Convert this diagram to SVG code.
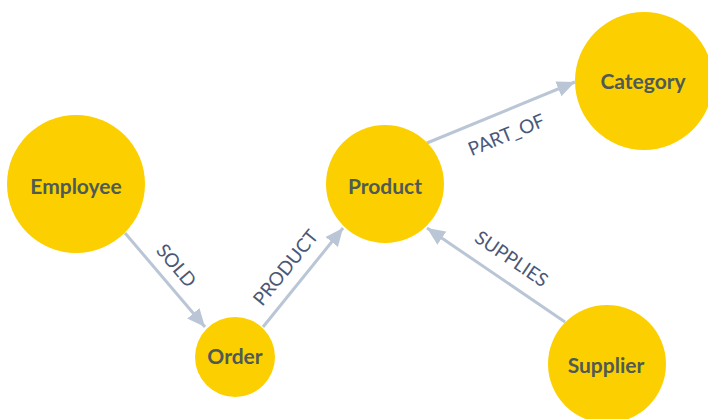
<svg xmlns="http://www.w3.org/2000/svg" width="708" height="419" viewBox="0 0 708 419">
<style>
.node{fill:#fcd000}
.nl{font-family:Lato,"Open Sans",sans-serif;font-weight:bold;font-size:21px;fill:#4f5a55;text-anchor:middle;dominant-baseline:central}
.edge{stroke:#bac6d6;stroke-width:3;fill:none}
.el{font-family:Lato,"Open Sans",sans-serif;font-size:19px;fill:#4a5878;text-anchor:middle;dominant-baseline:central}
</style>
<defs>
<marker id="ah" markerWidth="20" markerHeight="16" refX="18" refY="8" orient="auto" markerUnits="userSpaceOnUse">
<path d="M0,0 L18,8 L0,16 Z" fill="#bac6d6"/>
</marker>
</defs>
<g id="edges">
<line class="edge" x1="125" y1="233" x2="205" y2="327" marker-end="url(#ah)"/>
<text class="el" transform="translate(177,265) rotate(49.6)">SOLD</text>
<line class="edge" x1="263" y1="327" x2="343" y2="228" marker-end="url(#ah)"/>
<text class="el" transform="translate(285,267) rotate(-51)">PRODUCT</text>
<line class="edge" x1="427" y1="143" x2="575" y2="82" marker-end="url(#ah)"/>
<text class="el" transform="translate(506,134) rotate(-22.4)">PART_OF</text>
<line class="edge" x1="565" y1="322" x2="427" y2="228" marker-end="url(#ah)"/>
<text class="el" transform="translate(512,258) rotate(34.3)">SUPPLIES</text>
</g>
<g id="employee"><circle class="node" cx="76" cy="184" r="69"/><text class="nl" x="76" y="185">Employee</text></g>
<g id="order"><circle class="node" cx="235" cy="357" r="40"/><text class="nl" x="235" y="355">Order</text></g>
<g id="product"><circle class="node" cx="385" cy="184" r="59"/><text class="nl" x="385" y="185">Product</text></g>
<g id="category"><circle class="node" cx="644" cy="81" r="69"/><text class="nl" x="643" y="80">Category</text></g>
<g id="supplier"><circle class="node" cx="607" cy="364" r="59"/><text class="nl" x="606" y="364">Supplier</text></g>
</svg>
